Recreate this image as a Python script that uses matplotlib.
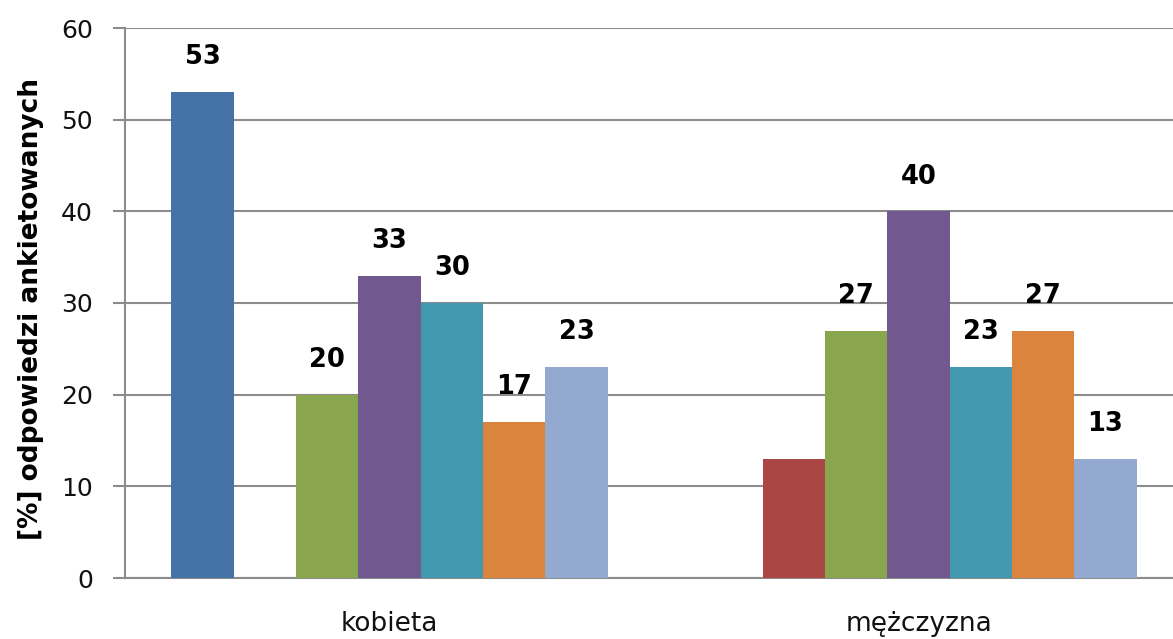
import numpy as np
import matplotlib
matplotlib.use('Agg')
import matplotlib.pyplot as plt

# data
categories = ['kobieta', 'mężczyzna']
series_1 = [53, 0]
series_2 = [0, 13]
series_3 = [20, 27]
series_4 = [33, 40]
series_5 = [30, 23]
series_6 = [17, 27]
series_7 = [23, 13]
series = [series_1, series_2, series_3, series_4, series_5, series_6, series_7]
# the red series carries no value labels in the original
show_labels = [True, False, True, True, True, True, True]
y_ticks = [0, 10, 20, 30, 40, 50, 60]

colors = ['#4572A7', '#AA4643', '#89A54E', '#71588F', '#4198AF', '#DB843D', '#93A9CF']

plt.rcParams['font.family'] = ['DejaVu Sans']

fig = plt.figure(figsize=(11.73, 6.39), dpi=100)
ax = fig.add_axes([125 / 1173, 61 / 639, 1058 / 1173, 550 / 639])

x = np.arange(len(categories))
n = len(series)
width = 0.1178
for i, vals in enumerate(series):
    pos = x + (i - (n - 1) / 2) * width
    bars = ax.bar(pos, vals, width, color=colors[i], zorder=3)
    if show_labels[i]:
        for b, v in zip(bars, vals):
            if v == 0:
                continue
            ax.annotate(str(v), (b.get_x() + b.get_width() / 2, v),
                        xytext=(0, 25), textcoords='offset points',
                        ha='center', va='center', fontsize=18.5,
                        fontweight='bold', color='black')

ax.set_xlim(-0.5, 1.5)
ax.set_ylim(0, 60)
ax.set_yticks(y_ticks)
ax.set_xticks(x)
ax.set_xticklabels(categories, fontsize=19, color='#111111')
ax.tick_params(axis='x', length=0, pad=24)
ax.tick_params(axis='y', length=9, width=1.5, color='#8c8c8c',
               labelsize=18, labelcolor='#111111', pad=14)
ax.yaxis.grid(True, color='#8c8c8c', linewidth=1.5, zorder=0)
ax.set_axisbelow(True)

for s in ['top', 'right']:
    ax.spines[s].set_visible(False)
for s in ['left', 'bottom']:
    ax.spines[s].set_color('#8c8c8c')
    ax.spines[s].set_linewidth(1.5)

ax.set_ylabel('[%] odpowiedzi ankietowanych', fontsize=19,
              fontweight='bold')
ax.yaxis.set_label_coords(-0.077, 0.49)

fig.savefig('out.png', dpi=100)
